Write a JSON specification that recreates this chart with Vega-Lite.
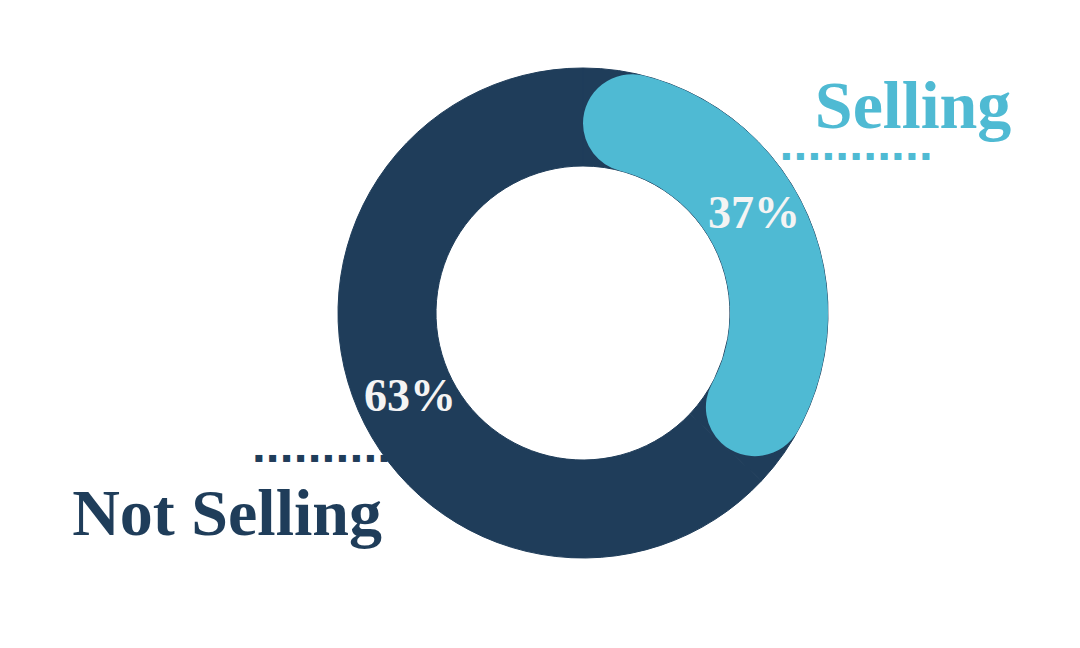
{
  "$schema": "https://vega.github.io/schema/vega-lite/v6.json",
  "width": 994,
  "height": 626,
  "autosize": {"type": "none"},
  "padding": {"left": 86, "right": 0, "top": 0, "bottom": 22},
  "background": "white",
  "view": {"stroke": null},
  "data": {"values": [
    {"category": "Selling", "value": 0.37},
    {"category": "Not Selling", "value": 0.63}
  ]},
  "encoding": {
    "theta": {"field": "value", "type": "quantitative", "stack": true, "scale": {"domain": [0, 1]}},
    "order": {"field": "category", "sort": "descending"},
    "detail": {"field": "category"}
  },
  "layer": [
    {
      "mark": {"type": "text", "radius": 245, "font": "DejaVu Sans", "fontSize": 14, "align": "left", "baseline": "middle", "dx": -26, "dy": -60, "color": "#4FBAD3"},
      "encoding": {"text": {"condition": {"test": "datum.category === 'Selling'", "value": "▪ ▪ ▪ ▪ ▪ ▪ ▪ ▪ ▪ ▪ ▪"}, "value": ""}}
    },
    {
      "mark": {"type": "text", "radius": 245, "font": "DejaVu Sans", "fontSize": 14, "align": "left", "baseline": "middle", "dx": -104, "dy": 48, "color": "#1F3D5A"},
      "encoding": {"text": {"condition": {"test": "datum.category === 'Not Selling'", "value": "▪ ▪ ▪ ▪ ▪ ▪ ▪ ▪ ▪ ▪ ▪"}, "value": ""}}
    },
    {
      "mark": {"type": "arc", "innerRadius": 147, "outerRadius": 245, "color": "#1F3D5A", "stroke": "#1F3D5A", "strokeWidth": 1}
    },
    {
      "transform": [{"filter": "datum.category === 'Selling'"}],
      "mark": {"type": "arc", "innerRadius": 147, "outerRadius": 245, "cornerRadius": 49, "color": "#4FBAD3"}
    },
    {
      "mark": {"type": "text", "radius": 196, "font": "Liberation Serif", "fontWeight": "bold", "fontSize": 46, "align": "center", "baseline": "alphabetic", "dx": -9, "dy": -7, "color": "#F4F4F4"},
      "encoding": {"text": {"condition": {"test": "datum.category === 'Selling'", "field": "value", "type": "quantitative", "format": ".0%"}, "value": ""}}
    },
    {
      "mark": {"type": "text", "radius": 196, "font": "Liberation Serif", "fontWeight": "bold", "fontSize": 46, "align": "center", "baseline": "alphabetic", "dx": 7, "dy": 20, "color": "#F4F4F4"},
      "encoding": {"text": {"condition": {"test": "datum.category === 'Not Selling'", "field": "value", "type": "quantitative", "format": ".0%"}, "value": ""}}
    },
    {
      "mark": {"type": "text", "radius": 245, "font": "Liberation Serif", "fontWeight": "bold", "fontSize": 68, "align": "left", "baseline": "alphabetic", "dx": 7, "dy": -88, "color": "#4FBAD3"},
      "encoding": {"text": {"condition": {"test": "datum.category === 'Selling'", "field": "category", "type": "nominal"}, "value": ""}}
    },
    {
      "mark": {"type": "text", "radius": 245, "font": "Liberation Serif", "fontWeight": "bold", "fontSize": 66, "align": "left", "baseline": "alphabetic", "dx": -286, "dy": 125, "color": "#1F3D5A"},
      "encoding": {"text": {"condition": {"test": "datum.category === 'Not Selling'", "field": "category", "type": "nominal"}, "value": ""}}
    }
  ]
}
